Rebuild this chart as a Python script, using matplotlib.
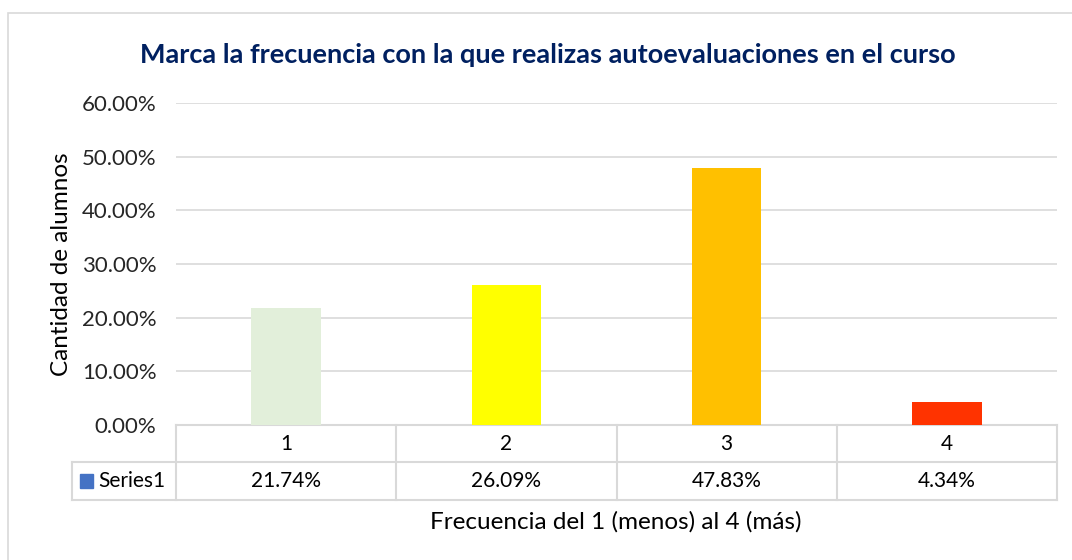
import matplotlib.pyplot as plt
from matplotlib.patches import Rectangle
import matplotlib.transforms as mtransforms

categorias = ["1", "2", "3", "4"]
valores = [21.74, 26.09, 47.83, 4.34]
colores = ["#E2EFDA", "#FFFF00", "#FFC000", "#FF3300"]
serie = "Series1"
titulo = "Marca la frecuencia con la que realizas autoevaluaciones en el curso"
eje_x = "Frecuencia del 1 (menos) al 4 (más)"
eje_y = "Cantidad de alumnos"

W, H = 1072, 560
fig = plt.figure(figsize=(W / 100, H / 100), dpi=100)
fuente = ["Lato", "DejaVu Sans"]

# marco del grafico
fig.patches.append(Rectangle((8 / W, -0.05), 1.1, 1 - 13 / H + 0.05, transform=fig.transFigure,
                             fill=False, edgecolor="#D9D9D9", linewidth=1.2))

# area de trazado
x0, x1, ytop, ybot = 176, 1057, 103, 425
ax = fig.add_axes([x0 / W, 1 - ybot / H, (x1 - x0) / W, (ybot - ytop) / H])
pos = range(len(categorias))
ax.bar(pos, valores, width=0.315, color=colores, zorder=3)
ax.set_xlim(-0.5, len(categorias) - 0.5)
ax.set_ylim(0, 60)
ax.set_yticks(range(0, 61, 10))
ax.set_yticklabels([f"{v:.2f}%" for v in range(0, 61, 10)], fontsize=16, color="#262626", family=fuente)
ax.grid(axis="y", color="#D9D9D9", linewidth=1.2, zorder=0)
ax.tick_params(axis="y", length=0, pad=14)
ax.tick_params(axis="x", length=0, labelbottom=False)
for s in ax.spines.values():
    s.set_visible(False)

fig.text(62 / W, 1 - 264 / H, eje_y, rotation=90, ha="center", va="center", fontsize=17.5, family=fuente)

# tabla de datos
tr = mtransforms.blended_transform_factory(ax.transData, ax.transAxes)
alto = ybot - ytop
f1 = -37 / alto
f2 = -75 / alto
izq = (72 - x0) / ((x1 - x0) / 4) - 0.5
gris = "#D9D9D9"
n = len(categorias)
ax.plot([-0.5, n - 0.5], [0, 0], transform=tr, color=gris, lw=1.5, clip_on=False)
ax.plot([izq, n - 0.5], [f1, f1], transform=tr, color=gris, lw=1.5, clip_on=False)
ax.plot([izq, n - 0.5], [f2, f2], transform=tr, color=gris, lw=1.5, clip_on=False)
ax.plot([izq, izq], [f1, f2], transform=tr, color=gris, lw=1.5, clip_on=False)
for i in range(n + 1):
    ax.plot([i - 0.5, i - 0.5], [0, f2], transform=tr, color=gris, lw=1.5, clip_on=False)
for i, (c, v) in enumerate(zip(categorias, valores)):
    ax.text(i, f1 / 2, c, transform=tr, ha="center", va="center", fontsize=15, family=fuente)
    ax.text(i, (f1 + f2) / 2, f"{v:.2f}%", transform=tr, ha="center", va="center", fontsize=15, family=fuente)
ax.add_patch(Rectangle((izq + 0.038, (f1 + f2) / 2 - 0.022), 0.058, 0.044, transform=tr,
                       color="#4472C4", clip_on=False))
ax.text(izq + 0.118, (f1 + f2) / 2, serie, transform=tr, ha="left", va="center", fontsize=15, family=fuente)

fig.text(616 / W, 1 - 522 / H, eje_x, ha="center", va="center", fontsize=17.5, family=fuente)
fig.text(548 / W, 1 - 55 / H, titulo, ha="center", va="center", fontsize=19.5, fontweight="bold",
         color="#002060", family=fuente)

fig.savefig("out.png", dpi=100)
